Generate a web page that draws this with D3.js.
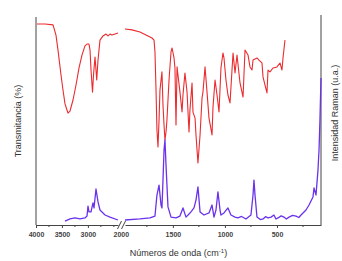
<!DOCTYPE html>
<html>
<head>
<meta charset="utf-8">
<script src="https://cdn.jsdelivr.net/npm/d3@7"></script>
<style>
  body { margin: 0; background: #fff; }
  svg { font-family: "Liberation Sans", Arial, sans-serif; }
</style>
</head>
<body>
<svg id="chart" width="342" height="261"></svg>
<script>
// IR spectrum (transmittance, %)
const irWavenumber = [3981, 3827, 3672, 3615, 3576, 3518, 3480, 3441, 3403, 3383, 3345, 3287, 3229, 3171, 3114, 3056, 3017, 2979, 2959, 2940, 2911, 2892, 2863, 2844, 2830, 2805, 2767, 2709, 2651, 2613, 2574, 2536, 2478, 2420,
  1960, 1893, 1816, 1739, 1701, 1681, 1672, 1662, 1653, 1643, 1633, 1624, 1605, 1595, 1585, 1576, 1566, 1557, 1537, 1518, 1508, 1489, 1480, 1470, 1460, 1451, 1432, 1412, 1403, 1384, 1364, 1345, 1336, 1316, 1307, 1287, 1278, 1259, 1239, 1220, 1211, 1191, 1172, 1153, 1124, 1115, 1095, 1076, 1057, 1038, 1019, 1009, 990, 971, 951, 932, 922, 903, 884, 855, 826, 807, 778, 759, 740, 730, 692, 673, 644, 634, 615, 596, 586, 567, 538, 500, 471, 452, 442, 423];
const irTransmittance = [96.6, 96.6, 96.2, 91.3, 84.1, 72.1, 64.9, 58.2, 55.3, 53.8, 54.8, 60.1, 67.3, 75.5, 81.7, 86.1, 87.0, 87.0, 84.1, 74.5, 63.9, 72.1, 80.8, 74.5, 69.7, 79.3, 88.9, 90.9, 91.8, 90.9, 91.8, 91.3, 91.8, 92.3,
  94.2, 93.8, 92.8, 90.9, 89.9, 88.9, 83.2, 64.9, 45.7, 37.5, 50.5, 64.9, 73.6, 57.7, 48.1, 40.9, 44.7, 50.5, 69.7, 83.2, 85.1, 80.3, 75.5, 48.1, 76.0, 72.1, 63.9, 54.3, 62.5, 73.1, 63.9, 44.7, 55.3, 68.3, 54.3, 51.4, 43.3, 29.8, 43.3, 61.1, 63.9, 76.0, 63.9, 51.4, 43.3, 56.3, 69.7, 62.5, 54.3, 75.5, 82.7, 80.3, 69.7, 62.5, 58.7, 74.5, 82.7, 73.1, 81.7, 68.3, 61.5, 84.1, 81.7, 76.0, 74.5, 79.3, 80.3, 79.3, 77.9, 71.2, 67.3, 63.5, 74.5, 73.6, 75.5, 76.0, 77.9, 74.5, 80.3, 88.9];

// Raman spectrum (intensity, a.u.)
const ramanWavenumber = [3441, 3345, 3248, 3152, 3056, 3017, 2998, 2979, 2940, 2902, 2882, 2844, 2805, 2767, 2670, 2574, 2420,
  1960, 1816, 1720, 1672, 1653, 1643, 1633, 1614, 1605, 1595, 1585, 1576, 1566, 1557, 1547, 1518, 1470, 1432, 1403, 1374, 1345, 1326, 1297, 1278, 1259, 1239, 1201, 1153, 1124, 1105, 1086, 1067, 1047, 1038, 1009, 971, 942, 903, 875, 840, 798, 750, 730, 721, 711, 692, 660, 634, 610, 586, 557, 529, 510, 490, 460, 433, 410, 384, 350, 317, 290, 269, 221, 192, 154, 144, 125, 106, 96, 87, 77];
const ramanIntensity = [1.9, 2.9, 3.4, 2.9, 3.4, 4.3, 9.1, 6.3, 6.3, 10.6, 8.2, 17.3, 11.1, 7.2, 4.8, 3.8, 2.4,
  2.4, 2.9, 3.4, 4.3, 14.4, 16.8, 19.2, 9.6, 8.2, 21.6, 36.1, 40.9, 28.8, 19.2, 8.7, 3.8, 3.4, 4.3, 8.2, 3.8, 5.3, 6.3, 8.2, 12.0, 18.3, 6.3, 4.8, 5.8, 9.6, 3.8, 7.2, 15.9, 7.2, 4.8, 5.8, 8.2, 4.8, 3.8, 3.4, 4.1, 2.9, 4.8, 14.4, 21.6, 14.4, 3.8, 2.6, 2.9, 4.0, 3.4, 3.8, 4.8, 2.9, 3.4, 4.4, 3.8, 2.9, 3.8, 4.6, 4.3, 3.6, 4.8, 7.2, 9.6, 13.5, 17.8, 14.4, 26.4, 36.1, 50.5, 70.7];

// x axis with a break: [4000, 2420] // [1960, 77]
const leftDomain = [4000, 2420];
const rightDomain = [1960, 77];
const leftTicks = [4000, 3500, 3000];
const leftMinorTicks = [3750, 3250, 2750, 2500];
const rightTicks = [2000, 1500, 1000, 500];
const rightMinorTicks = [1750, 1250, 750, 250];

const svg = d3.select('#chart');
const margin = { top: 17, right: 21, bottom: 36, left: 36 };
const width = +svg.attr('width');
const height = +svg.attr('height');
const bottom = height - margin.bottom;
const right = width - margin.right;

const xLeft = d3.scaleLinear().domain(leftDomain).range([margin.left, 118]);
const xRight = d3.scaleLinear().domain(rightDomain).range([125, right]);
const y = d3.scaleLinear().domain([0, 100]).range([bottom, margin.top]);

// split a spectrum into the part left of the break and the part right of it
function segments(xs, ys) {
  const pts = xs.map((v, i) => ({ v, val: ys[i] }));
  return [
    { scale: xLeft, pts: pts.filter(d => d.v >= leftDomain[1]) },
    { scale: xRight, pts: pts.filter(d => d.v <= rightDomain[0]) }
  ];
}

function drawSeries(xs, ys, color, w) {
  segments(xs, ys).forEach(seg => {
    const line = d3.line()
      .x(d => seg.scale(d.v))
      .y(d => y(d.val));
    svg.append('path')
      .datum(seg.pts)
      .attr('fill', 'none')
      .attr('stroke', color)
      .attr('stroke-width', w)
      .attr('stroke-linejoin', 'round')
      .attr('d', line);
  });
}

// left and right axis lines
svg.append('line')
  .attr('x1', margin.left).attr('x2', margin.left)
  .attr('y1', margin.top).attr('y2', bottom)
  .attr('stroke', '#444').attr('stroke-width', 1);
svg.append('line')
  .attr('x1', right).attr('x2', right)
  .attr('y1', 15).attr('y2', bottom)
  .attr('stroke', '#444').attr('stroke-width', 1);

drawSeries(irWavenumber, irTransmittance, '#ec2a2e', 1.1);
drawSeries(ramanWavenumber, ramanIntensity, '#6a32ec', 1.3);

// bottom axis, two pieces
function bottomAxis(scale, major, minor) {
  const g = svg.append('g').attr('transform', `translate(0,${bottom})`);
  g.call(d3.axisBottom(scale).tickValues(major).tickFormat(d3.format('d')).tickSize(3).tickSizeOuter(0).tickPadding(4));
  g.selectAll('.tick')
    .filter(d => d === 2000)
    .select('line').remove();
  g.append('g').selectAll('line')
    .data(minor)
    .enter()
    .append('line')
    .attr('x1', d => scale(d)).attr('x2', d => scale(d))
    .attr('y1', 0).attr('y2', 2)
    .attr('stroke', '#444');
  g.select('.domain').attr('stroke', '#444');
  g.selectAll('.tick line').attr('stroke', '#444');
  g.selectAll('.tick text')
    .attr('font-size', '7px')
    .attr('font-weight', 'bold')
    .attr('fill', '#444');
  return g;
}
bottomAxis(xLeft, leftTicks, leftMinorTicks);
bottomAxis(xRight, rightTicks, rightMinorTicks);

// break marks
const bx = (xLeft(leftDomain[1]) + xRight(rightDomain[0])) / 2;
[-2, 2].forEach(off => {
  svg.append('line')
    .attr('x1', bx + off - 2).attr('y1', bottom + 4)
    .attr('x2', bx + off + 2).attr('y2', bottom - 4)
    .attr('stroke', '#444').attr('stroke-width', 1);
});

// axis titles
const xTitle = svg.append('text')
  .attr('x', (margin.left + right) / 2)
  .attr('y', 256)
  .attr('text-anchor', 'middle')
  .attr('font-size', '9px')
  .attr('fill', '#333');
xTitle.append('tspan').text('Números de onda (cm');
xTitle.append('tspan').attr('baseline-shift', 'super').attr('font-size', '6px').text('-1');
xTitle.append('tspan').text(')');

svg.append('text')
  .attr('transform', `translate(21,${(margin.top + bottom) / 2}) rotate(-90)`)
  .attr('text-anchor', 'middle')
  .attr('font-size', '9px')
  .attr('fill', '#333')
  .text('Transmitancia (%)');

svg.append('text')
  .attr('transform', `translate(338,${(margin.top + bottom) / 2 - 8}) rotate(-90)`)
  .attr('text-anchor', 'middle')
  .attr('font-size', '9px')
  .attr('fill', '#333')
  .text('Intensidad Raman (u.a.)');
</script>
</body>
</html>
